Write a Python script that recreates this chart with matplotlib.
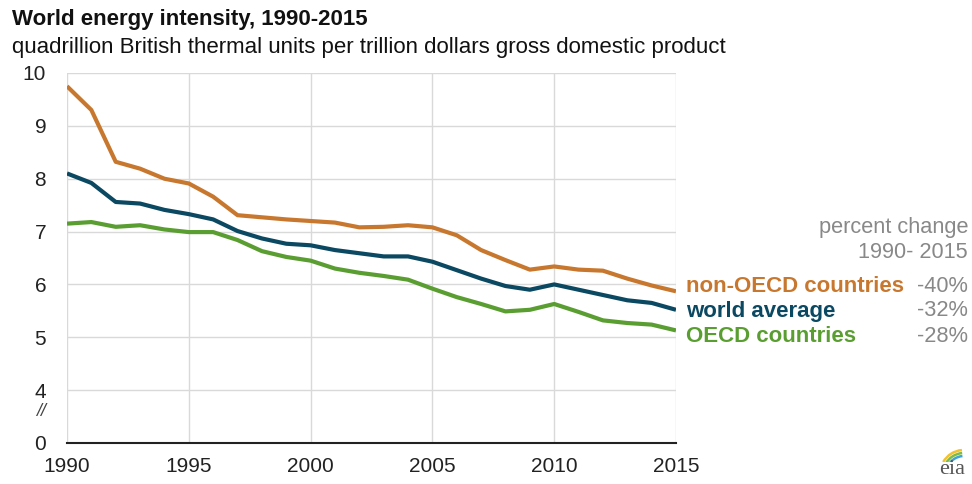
import matplotlib
matplotlib.use("Agg")
import matplotlib.pyplot as plt
from matplotlib.patches import Arc

plt.rcParams['font.family'] = ['Liberation Sans', 'DejaVu Sans']

years = list(range(1990, 2016))
non_oecd = [9.75, 9.30, 8.32, 8.19, 8.00, 7.91, 7.66, 7.31, 7.27, 7.23,
            7.20, 7.17, 7.08, 7.09, 7.12, 7.08, 6.93, 6.65, 6.46, 6.28,
            6.34, 6.28, 6.26, 6.11, 5.98, 5.87]
world = [8.10, 7.92, 7.56, 7.53, 7.41, 7.33, 7.23, 7.01, 6.87, 6.77,
         6.74, 6.65, 6.59, 6.53, 6.53, 6.43, 6.27, 6.11, 5.97, 5.90,
         6.00, 5.90, 5.80, 5.70, 5.65, 5.52]
oecd = [7.15, 7.18, 7.09, 7.12, 7.04, 6.99, 6.99, 6.84, 6.63, 6.52,
        6.45, 6.30, 6.22, 6.16, 6.09, 5.92, 5.76, 5.63, 5.49, 5.52,
        5.63, 5.48, 5.32, 5.27, 5.24, 5.13]
series_names = ['non-OECD countries', 'world average', 'OECD countries']
pct_change = ['-40%', '-32%', '-28%']
colors = ['#C8782E', '#0B4862', '#5A9E32']
x_ticks = [1990, 1995, 2000, 2005, 2010, 2015]
y_ticks = [3, 4, 5, 6, 7, 8, 9, 10]
y_tick_labels = ['0', '4', '5', '6', '7', '8', '9', '10']

W, H = 972, 484
fig = plt.figure(figsize=(W / 100, H / 100), dpi=100)
ax = fig.add_axes([67 / W, 1 - 443 / H, (676 - 67) / W, (443 - 73) / H])

for vals, c in zip([non_oecd, world, oecd], colors):
    ax.plot(years, vals, color=c, lw=3.0, solid_capstyle='butt', zorder=3)

ax.set_xlim(1990, 2015)
ax.set_ylim(3, 10)
ax.set_xticks(x_ticks)
ax.set_yticks(y_ticks)
ax.set_yticklabels(y_tick_labels)
ax.grid(True, color='#D9D9D9', lw=1.0, zorder=0)
for s in ['top', 'left', 'right']:
    ax.spines[s].set_visible(False)
ax.spines['bottom'].set_color('#222222')
ax.spines['bottom'].set_linewidth(1.5)
ax.spines['bottom'].set_zorder(4)
ax.tick_params(axis='both', length=0, labelsize=15, colors='#222222')
ax.tick_params(axis='y', pad=15)
ax.tick_params(axis='x', pad=10)
for lbl in ax.get_yticklabels():
    lbl.set_horizontalalignment('right')
ax.text(-0.034, 3.6, '//', transform=ax.get_yaxis_transform(), ha='right', va='center',
        fontsize=13, color='#444444', style='italic')

fig.text(12 / W, 1 - 20 / H, 'World energy intensity, 1990-2015', fontsize=16,
         fontweight='bold', ha='left', va='center', color='#111111')
fig.text(12 / W, 1 - 47 / H,
         'quadrillion British thermal units per trillion dollars gross domestic product',
         fontsize=16, ha='left', va='center', color='#111111')

fig.text(968 / W, 1 - 228 / H, 'percent change', fontsize=15.7, ha='right', va='center', color='#888888')
fig.text(968 / W, 1 - 253 / H, '1990- 2015', fontsize=15.7, ha='right', va='center', color='#888888')
label_y = [286, 311, 336]
for name, pc, c, yy in zip(series_names, pct_change, colors, label_y):
    fig.text(686 / W, 1 - yy / H, name, fontsize=16, fontweight='bold', ha='left', va='center', color=c)
    fig.text(968 / W, 1 - yy / H, pc, fontsize=15.7, ha='right', va='center', color='#888888')

# eia logo (simple)
fig.text(952 / W, 1 - 470 / H, 'eia', fontsize=16, family='Liberation Serif', ha='center', va='center', color='#555555')
lax = fig.add_axes([930 / W, 1 - 462 / H, 42 / W, 18 / H])
lax.set_xlim(0, 42); lax.set_ylim(0, 18); lax.axis('off')
for r, col in zip([24, 21, 18], ['#F2C12E', '#7DBB42', '#3BA4D8']):
    lax.add_patch(Arc((34, -12), 2 * r, 2 * r, theta1=95, theta2=150, color=col, lw=1.8))

fig.savefig('out.png', dpi=100)
